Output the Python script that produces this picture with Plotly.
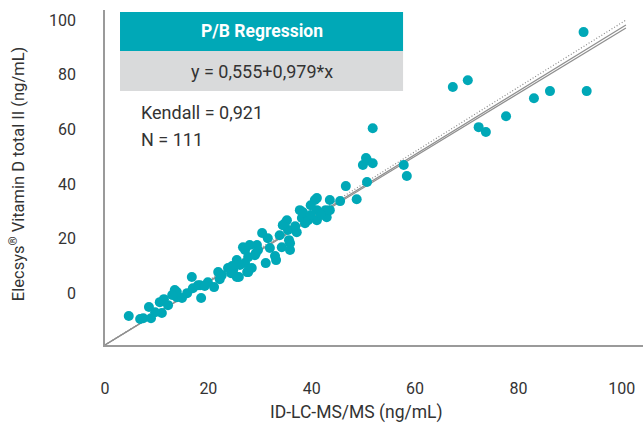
import plotly.graph_objects as go

# Scatter data (x: ID-LC-MS/MS, y: Elecsys, in axis-label units)
x_vals = [4.6, 6.8, 7.4, 8.5, 8.9, 10.6, 11.4, 11.0, 13.5, 13.9, 14.9, 15.9, 16.8, 17.0, 18.0,
          18.6, 19.9, 21.1, 21.9, 22.6, 24.8, 25.5, 25.9, 27.1, 27.7, 26.7, 27.1, 29.0, 29.2, 31.1,
          27.7, 26.1, 24.4, 27.5, 25.5, 18.4, 13.9, 13.0, 30.4, 31.5, 29.6, 34.8, 35.4, 34.2, 35.6,
          37.1, 37.7, 33.8, 35.2, 34.4, 38.1, 38.3, 38.7, 39.3, 40.6, 41.0, 41.0, 41.0, 42.7, 42.9,
          45.5, 46.6, 48.7, 49.9, 50.7, 51.8, 50.7, 51.8, 57.8, 58.4, 67.3, 70.2, 72.3, 73.7, 77.6,
          83.0, 86.1, 92.6, 93.2, 31.9, 32.9, 28.4, 23.8, 35.8, 36.8, 39.8, 41.8, 43.5, 39.8, 33.1,
          22.2, 19.3, 9.7, 12.2, 24.6, 29.4, 28.0, 50.5, 43.5, 35.8]
y_vals = [-8.4, -9.5, -9.2, -5.1, -9.2, -3.3, -2.2, -7.3, 1.1, -1.5, -1.8, 0.0, 5.9, 1.8, 2.9,
          -1.8, 4.0, 2.2, 7.7, 6.6, 8.4, 12.1, 5.9, 11.0, 7.7, 16.8, 15.8, 13.9, 14.7, 11.0,
          13.2, 10.3, 7.3, 7.7, 5.9, 2.9, 0.4, -0.7, 22.0, 20.1, 15.8, 25.6, 23.1, 16.8, 19.4,
          22.3, 30.4, 21.2, 26.7, 24.9, 27.5, 29.6, 25.6, 26.7, 34.1, 34.8, 30.4, 26.7, 30.4, 27.8,
          33.7, 39.2, 34.4, 46.9, 48.7, 47.6, 40.7, 60.4, 46.9, 42.9, 75.5, 78.0, 60.8, 59.0, 64.8,
          71.4, 74.0, 95.6, 74.0, 16.5, 13.6, 9.2, 9.2, 18.3, 24.5, 32.2, 28.6, 30.4, 28.6, 12.1,
          5.1, 2.6, -7.0, -4.4, 9.9, 17.6, 17.6, 49.5, 34.1, 15.8]

# Reference lines (axis-label units)
line_x = [0.0, 100.8]
identity_y = [-19.0, 100.0]
reg_upper_y = [-19.0, 98.2]
reg_lower_y = [-19.0, 97.1]

x_ticks = [0, 20, 40, 60, 80, 100]
y_ticks = [0, 20, 40, 60, 80, 100]

teal = "#00A8B7"
grey_line = "#8f8f8f"
txt = "#333333"
font_family = "Roboto, 'Liberation Sans', Arial, sans-serif"

fig = go.Figure()
fig.add_trace(go.Scatter(x=line_x, y=identity_y, mode="lines",
                         line=dict(color="#8a8a8a", width=1.2, dash="1px,2px"), hoverinfo="skip"))
fig.add_trace(go.Scatter(x=line_x, y=reg_upper_y, mode="lines",
                         line=dict(color=grey_line, width=1.2), hoverinfo="skip"))
fig.add_trace(go.Scatter(x=line_x, y=reg_lower_y, mode="lines",
                         line=dict(color=grey_line, width=1.2), hoverinfo="skip"))
fig.add_trace(go.Scatter(x=x_vals, y=y_vals, mode="markers",
                         marker=dict(color=teal, size=10, line=dict(width=0))))

fig.update_layout(
    width=643, height=423, autosize=False,
    margin=dict(l=105, r=0, t=10, b=78),
    paper_bgcolor="white", plot_bgcolor="white",
    showlegend=False,
    font=dict(family=font_family, size=16, color=txt),
    xaxis=dict(range=[0, 104.1], tickvals=x_ticks, showgrid=False, zeroline=False,
               showline=True, linecolor="#9a9a9a", linewidth=1.5, ticks="",
               ticklabelstandoff=28, tickfont=dict(size=16, color=txt)),
    yaxis=dict(range=[-19.0, 103.7], tickvals=y_ticks, showgrid=False, zeroline=False,
               showline=True, linecolor="#9a9a9a", linewidth=1.5, ticks="",
               ticklabelstandoff=24, tickfont=dict(size=16, color=txt)),
    shapes=[
        dict(type="rect", xref="paper", yref="paper", x0=0.0279, x1=0.554, y0=0.8776, y1=0.994,
             fillcolor=teal, line=dict(width=0), layer="below"),
        dict(type="rect", xref="paper", yref="paper", x0=0.0279, x1=0.554, y0=0.758, y1=0.8776,
             fillcolor="#d9dadb", line=dict(width=0), layer="below"),
    ],
    annotations=[
        dict(text="<b>P/B Regression</b>", xref="paper", yref="paper", x=0.291, y=0.936,
             showarrow=False, xanchor="center", yanchor="middle",
             font=dict(size=17.5, color="white")),
        dict(text="y = 0,555+0,979*x", xref="paper", yref="paper", x=0.291, y=0.815,
             showarrow=False, xanchor="center", yanchor="middle",
             font=dict(size=18, color=txt)),
        dict(text="Kendall = 0,921", xref="paper", yref="paper", x=0.0637, y=0.693,
             showarrow=False, xanchor="left", yanchor="middle",
             font=dict(size=18, color=txt)),
        dict(text="N = 111", xref="paper", yref="paper", x=0.0637, y=0.612,
             showarrow=False, xanchor="left", yanchor="middle",
             font=dict(size=18, color=txt)),
        dict(text="ID-LC-MS/MS (ng/mL)", xref="paper", yref="paper", x=0.468, y=-0.2,
             showarrow=False, xanchor="center", yanchor="middle",
             font=dict(size=17.5, color=txt)),
        dict(text="Elecsys<sup>®</sup> Vitamin D total II (ng/mL)", xref="paper", yref="paper",
             x=-0.1636, y=0.51, textangle=-90, showarrow=False,
             xanchor="center", yanchor="middle", font=dict(size=16.5, color=txt)),
    ],
)

fig.write_html("out.html", config={"displayModeBar": False},
               post_script="document.body.style.margin='0';document.body.style.overflow='hidden';")
